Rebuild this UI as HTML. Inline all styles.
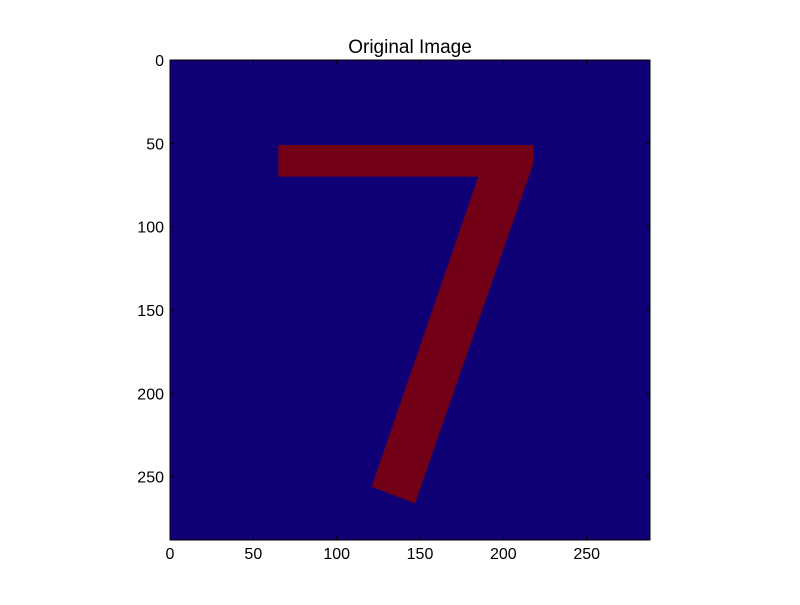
<!DOCTYPE html>
<html><head><meta charset="utf-8"><style>
body{margin:0;background:#fff;}
svg text{font-family:"Liberation Sans",sans-serif;font-size:16px;fill:#000;}
</style></head><body>
<svg id="chart" width="800" height="600" xmlns="http://www.w3.org/2000/svg">
<rect width="800" height="600" fill="#fff"/>
<g id="plot"></g>
</svg>
<script>
const imgSize = 288;
const xTicks = [0,50,100,150,200,250];
const yTicks = [0,50,100,150,200,250];
const shapeX = [65,218,218,147,121,185,65];
const shapeY = [51,51,62,266,256,70,70];
const ax = {left:170, top:60, w:480, h:480};
const sx = v => ax.left + v/imgSize*ax.w;
const sy = v => ax.top + v/imgSize*ax.h;
const NS='http://www.w3.org/2000/svg';
const g=document.getElementById('plot');
function mk(tag,attrs,parent){const e=document.createElementNS(NS,tag);for(const k in attrs)e.setAttribute(k,attrs[k]);(parent||g).appendChild(e);return e;}
const bg=mk('rect',{x:ax.left,y:ax.top,width:ax.w,height:ax.h,fill:'#100075'});


const pts=shapeX.map((x,i)=>sx(x)+','+sy(shapeY[i])).join(' ');
const seven=mk('polygon',{points:pts,fill:'#720016'});


const frame=mk('rect',{x:ax.left,y:ax.top,width:ax.w,height:ax.h,fill:'none',stroke:'#000','stroke-width':1});


xTicks.forEach(t=>{
  const x=sx(t);
  mk('line',{x1:x,y1:ax.top+ax.h,x2:x,y2:ax.top+ax.h-4,stroke:'#000'});
  mk('line',{x1:x,y1:ax.top,x2:x,y2:ax.top+4,stroke:'#000'});
  const tx=mk('text',{x:x,y:ax.top+ax.h+19,'text-anchor':'middle'});
  tx.textContent=t;
  
  
});
yTicks.forEach(t=>{
  const y=sy(t);
  mk('line',{x1:ax.left,y1:y,x2:ax.left+4,y2:y,stroke:'#000'});
  mk('line',{x1:ax.left+ax.w,y1:y,x2:ax.left+ax.w-4,y2:y,stroke:'#000'});
  const tx=mk('text',{x:ax.left-6,y:y+6,'text-anchor':'end'});
  tx.textContent=t;
  
  
});
const title=mk('text',{x:ax.left+ax.w/2,y:53,'text-anchor':'middle',style:'font-size:19px'});
title.textContent='Original Image';


</script>
</body></html>
